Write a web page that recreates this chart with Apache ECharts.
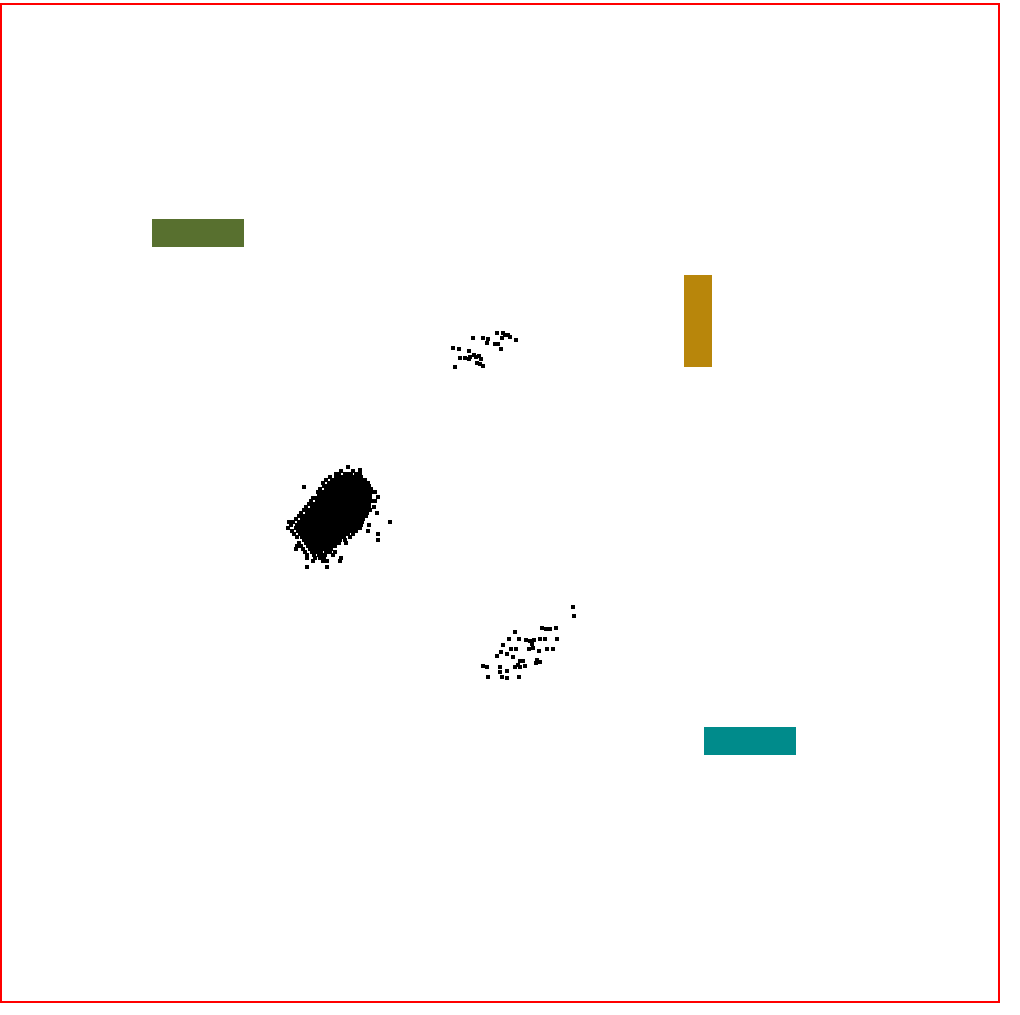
<!DOCTYPE html>
<html>
<head>
<meta charset="utf-8">
<script src="https://cdn.jsdelivr.net/npm/echarts@6/dist/echarts.min.js"></script>
<style>
html,body{margin:0;padding:0;background:#fff;}
#chart{width:1020px;height:1015px;}
</style>
</head>
<body>
<div id="chart"></div>
<script>
// Cluster A (upper, sparse)
const clusterA = [
  [473,338],[483,338],[488,339],[487,343],[497,333],[503,333],[505,335],[508,335],
  [502,338],[510,337],[516,340],[495,344],[498,344],[501,349],[453,348],[459,349],
  [469,351],[474,355],[479,356],[460,358],[465,358],[469,359],[476,357],[481,359],
  [477,363],[483,366],[480,364],[455,367],[470,357]
];

// Cluster B (dense blob) rows: [y, [x...]]
const clusterBRows = [
  [467,[348]],
  [470,[360]],
  [471,[341,353]],
  [474,[336,339,345,348,351,356,360]],
  [477,[330,336,339,342,345,348,351,354,357,361]],
  [480,[326,332,335,338,341,344,347,350,353,356,359,362,365]],
  [483,[323,329,332,335,338,341,344,347,350,353,356,359,362,365,368]],
  [486,[324,327,330,333,336,339,342,345,348,351,354,357,360,363,366,369]],
  [487,[304]],
  [489,[320,326,329,332,335,338,341,344,347,350,353,356,359,362,365,368,371]],
  [492,[318,321,324,327,330,333,336,339,342,345,348,351,354,357,360,363,366,369,372,375]],
  [495,[319,322,325,328,331,334,337,340,343,346,349,352,355,358,361,364,367,370]],
  [497,[378]],
  [498,[313,316,319,322,325,328,331,334,337,340,343,346,349,352,355,358,361,364,367,370]],
  [501,[311,317,320,323,326,329,332,335,338,341,344,347,350,353,356,359,362,365,368,371,375]],
  [504,[309,312,315,318,321,324,327,330,333,336,339,342,345,348,351,354,357,360,363,366,369]],
  [507,[306,312,315,318,321,324,327,330,333,336,339,342,345,348,351,354,357,360,363,366,369,374]],
  [510,[304,307,310,313,316,319,322,325,328,331,334,337,340,343,346,349,352,355,358,361,364,367,370]],
  [513,[301,307,310,313,316,319,322,325,328,331,334,337,340,343,346,349,352,355,358,361,364,367,377]],
  [516,[299,302,305,308,311,314,317,320,323,326,329,332,335,338,341,344,347,350,353,356,359,362,366]],
  [519,[296,302,305,308,311,314,317,320,323,326,329,332,335,338,341,344,347,350,353,356,359,363]],
  [522,[289,293,299,302,305,308,311,314,317,320,323,326,329,332,335,338,341,344,347,350,353,356,359,362,390]],
  [525,[291,297,300,303,306,309,312,315,318,321,324,327,330,333,336,339,342,345,348,351,354,357,361,369]],
  [528,[288,296,299,302,305,308,311,314,317,320,323,326,329,332,335,338,341,344,347,350,353,356,360]],
  [531,[292,298,301,304,307,310,313,316,319,322,325,328,331,334,337,340,343,346,349,352,356,368]],
  [534,[294,300,303,306,309,312,315,318,321,324,327,330,333,336,339,342,345,348,353,378]],
  [537,[297,302,305,308,311,314,317,320,323,326,329,332,335,338,341,344,350]],
  [540,[304,307,310,313,316,319,322,325,328,331,334,337,340,345,378]],
  [543,[299,306,309,312,315,318,321,324,327,330,333,336,339,346]],
  [546,[297,301,308,311,314,317,320,323,326,329,332,335]],
  [549,[296,303,310,313,316,319,322,325,328,331]],
  [552,[305,312,315,318,321,326,330,335]],
  [555,[307,314,319,322,325,333]],
  [558,[307,315,320,324,341]],
  [561,[313,323,327,340]],
  [567,[307,327]]
];

// Cluster C (lower right)
const clusterC = [
  [573,607],[574,616],[542,628],[546,629],[550,629],[556,628],[515,632],[509,639],
  [519,639],[526,640],[530,641],[534,640],[540,639],[545,639],[557,639],[532,644],
  [503,645],[529,649],[533,648],[539,651],[547,649],[553,649],[511,649],[516,649],
  [501,652],[507,654],[497,656],[513,657],[520,661],[523,661],[537,660],[540,662],
  [518,665],[515,667],[525,666],[483,666],[487,667],[500,667],[507,671],[500,672],
  [488,677],[502,677],[507,678],[519,677],[520,667],[536,663]
];

// Rectangles [x0, y0, x1, y1]
const rectangles = [
  [152,219,244,247],
  [684,275,712,367],
  [704,727,796,755]
];
const rectColors = ['#58702f', '#b8860b', '#008b8b'];

const clusterB = [];
clusterBRows.forEach(function(r){ r[1].forEach(function(x){ clusterB.push([x, r[0]]); }); });

const chart = echarts.init(document.getElementById('chart'), null, {renderer:'canvas'});
const pointStyle = {type:'scatter', symbol:'rect', symbolSize:4, itemStyle:{color:'#000', opacity:1}, silent:true, animation:false};
chart.setOption({
  backgroundColor:'#fff',
  animation:false,
  grid:{left:1, top:4, width:998, height:998, show:true, borderColor:'#ff0000', borderWidth:2, backgroundColor:'transparent'},
  xAxis:{type:'value', min:1, max:999, show:false},
  yAxis:{type:'value', min:4, max:1002, inverse:true, show:false},
  series:[
    {
      type:'custom',
      silent:true,
      encode:{x:[0,2], y:[1,3]},
      data: rectangles.map(function(r, i){ return {value:r, itemStyle:{color:rectColors[i]}}; }),
      renderItem:function(params, api){
        const p0 = api.coord([api.value(0), api.value(1)]);
        const p1 = api.coord([api.value(2), api.value(3)]);
        return {
          type:'rect',
          shape:{x:Math.min(p0[0],p1[0]), y:Math.min(p0[1],p1[1]), width:Math.abs(p1[0]-p0[0]), height:Math.abs(p1[1]-p0[1])},
          style:{fill:api.visual('color')}
        };
      }
    },
    Object.assign({data:clusterA}, pointStyle),
    Object.assign({data:clusterB}, pointStyle),
    Object.assign({data:clusterC}, pointStyle)
  ]
});
</script>
</body>
</html>
